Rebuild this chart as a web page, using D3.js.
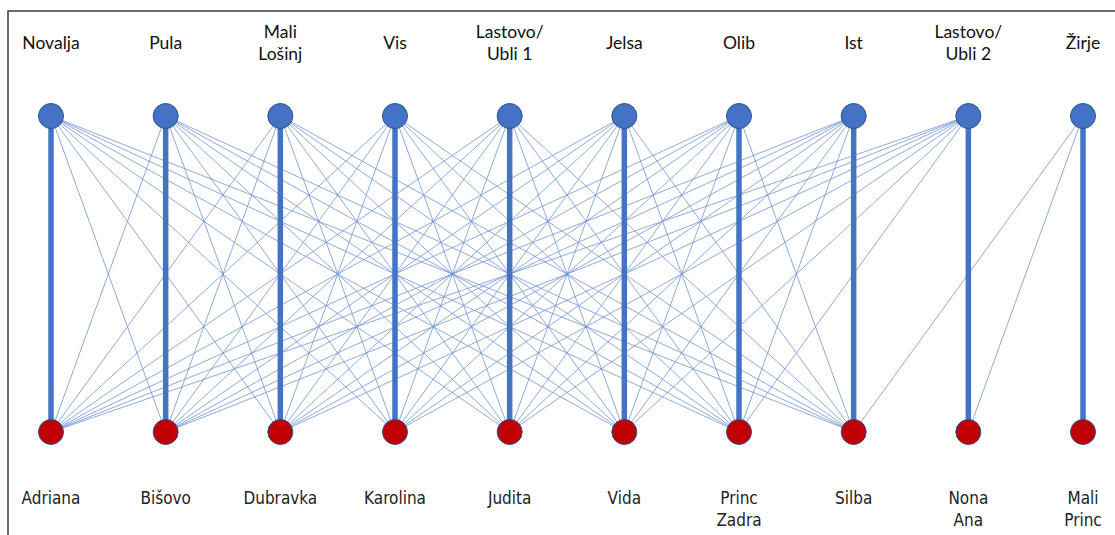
<!DOCTYPE html>
<html>
<head>
<meta charset="utf-8">
<script src="https://cdn.jsdelivr.net/npm/d3@7"></script>
<style>
  html, body { margin: 0; padding: 0; background: #ffffff; }
  svg { display: block; }
</style>
</head>
<body>
<svg id="chart" width="1115" height="535"></svg>
<script>
// ---- data ----
const sites = [["Novalja"], ["Pula"], ["Mali", "Lošinj"], ["Vis"], ["Lastovo/", "Ubli 1"],
               ["Jelsa"], ["Olib"], ["Ist"], ["Lastovo/", "Ubli 2"], ["Žirje"]];
const ships = [["Adriana"], ["Bišovo"], ["Dubravka"], ["Karolina"], ["Judita"],
               ["Vida"], ["Princ", "Zadra"], ["Silba"], ["Nona", "Ana"], ["Mali", "Princ"]];
// main (thick) links: site index -> ship index
const mainLinks = [[0,0],[1,1],[2,2],[3,3],[4,4],[5,5],[6,6],[7,7],[8,8],[9,9]];
// secondary (thin) links: [site, ship]
const thinLinks = [
  [0,1],[0,2],[0,3],[0,4],[0,5],[0,6],[0,7],
  [1,0],[1,2],[1,3],[1,4],[1,5],[1,6],[1,7],
  [2,0],[2,1],[2,3],[2,4],[2,5],[2,6],[2,7],
  [3,0],[3,1],[3,2],[3,4],[3,5],[3,6],[3,7],
  [4,0],[4,1],[4,2],[4,3],[4,5],[4,6],[4,7],
  [5,0],[5,1],[5,2],[5,3],[5,4],[5,6],[5,7],
  [6,0],[6,1],[6,2],[6,3],[6,4],[6,5],[6,7],
  [7,0],[7,1],[7,2],[7,3],[7,4],[7,5],[7,6],
  [8,0],[8,1],[8,2],[8,3],[8,4],[8,5],[8,6],
  [9,7],[9,8]
];

// ---- drawing ----
const svg = d3.select("#chart");
const x = d3.scalePoint().domain(d3.range(sites.length)).range([51, 1083]);
const row = d3.scalePoint().domain(["site", "ship"]).range([116, 432]);

// frame
svg.append("path")
  .attr("d", "M8,535 L8,11 L1115,11")
  .attr("fill", "none").attr("stroke", "#3a3a3a").attr("stroke-width", 1.5);

const blue = "#4472C4";

svg.append("g").selectAll("line").data(thinLinks).join("line")
  .attr("x1", d => x(d[0])).attr("y1", row("site"))
  .attr("x2", d => x(d[1])).attr("y2", row("ship"))
  .attr("stroke", "#6a8fd2").attr("stroke-width", 0.9).attr("stroke-opacity", 0.85);

svg.append("g").selectAll("line").data(mainLinks).join("line")
  .attr("x1", d => x(d[0])).attr("y1", row("site"))
  .attr("x2", d => x(d[1])).attr("y2", row("ship"))
  .attr("stroke", blue).attr("stroke-width", 5.5);

svg.append("g").selectAll("circle").data(sites).join("circle")
  .attr("cx", (d, i) => x(i)).attr("cy", row("site")).attr("r", 12.5)
  .attr("fill", blue).attr("stroke", "#2F528F").attr("stroke-width", 1);

svg.append("g").selectAll("circle").data(ships).join("circle")
  .attr("cx", (d, i) => x(i)).attr("cy", row("ship")).attr("r", 12.5)
  .attr("fill", "#C00000").attr("stroke", "#2F528F").attr("stroke-width", 1);

// site labels
const topG = svg.append("g")
  .attr("font-family", "Lato, 'Open Sans', sans-serif").attr("font-size", 17.5)
  .attr("fill", "#111").attr("text-anchor", "middle");
sites.forEach((lines, i) => {
  const t = topG.append("text").attr("x", x(i));
  const y0 = lines.length === 1 ? 49 : 38;
  lines.forEach((s, k) => t.append("tspan").attr("x", x(i)).attr("y", y0 + k * 22).text(s));
});

// ship labels
const botG = svg.append("g")
  .attr("font-family", "'Liberation Sans Narrow', 'DejaVu Sans Condensed', sans-serif")
  .attr("font-size", 17).attr("fill", "#222").attr("text-anchor", "middle");
ships.forEach((lines, i) => {
  const t = botG.append("text");
  lines.forEach((s, k) => t.append("tspan").attr("x", x(i)).attr("y", 504 + k * 22).text(s));
});
</script>
</body>
</html>
